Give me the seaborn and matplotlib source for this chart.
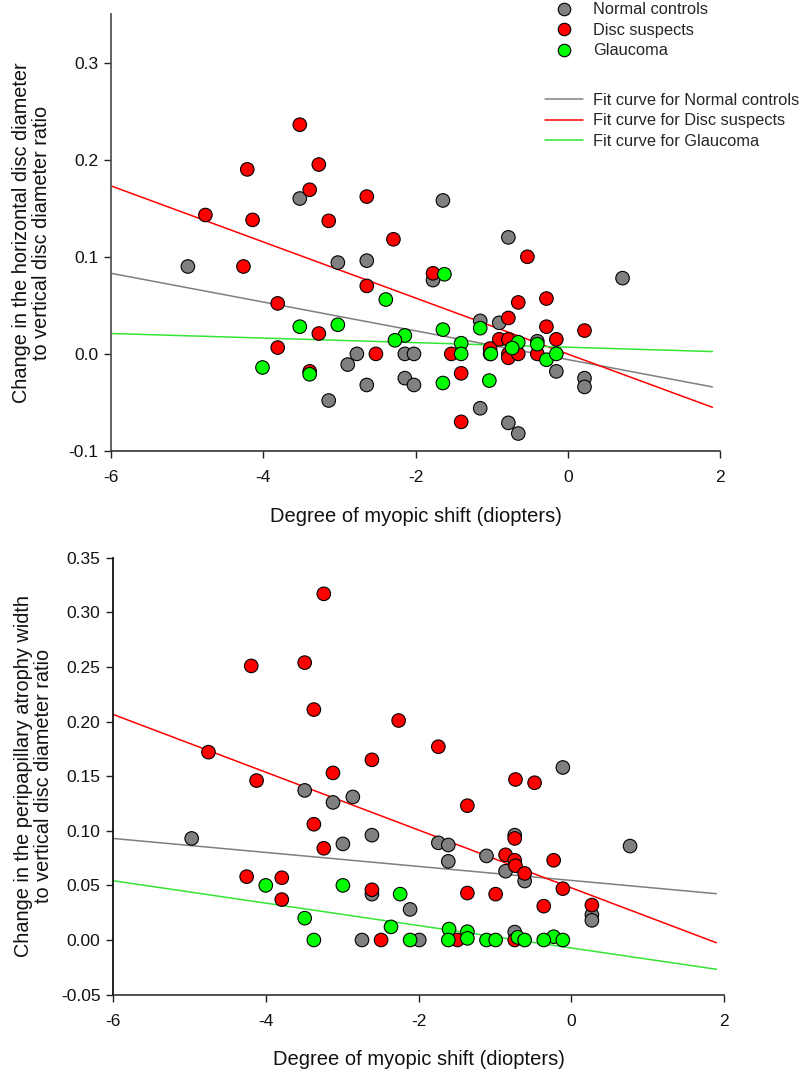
import numpy as np
import pandas as pd
import matplotlib
matplotlib.use("Agg")
import matplotlib.pyplot as plt
import seaborn as sns
from matplotlib.lines import Line2D

# ---------------- data ----------------
groups = ["Normal controls", "Disc suspects", "Glaucoma"]
point_colors = ["#808080", "#ff0000", "#00ff00"]
fit_colors = ["#7f7f7f", "#ff0000", "#33e633"]
fit_labels = ["Fit curve for Normal controls", "Fit curve for Disc suspects", "Fit curve for Glaucoma"]

x_ticks = [-6, -4, -2, 0, 2]
top_y_ticks = [-0.1, 0.0, 0.1, 0.2, 0.3]
bottom_y_ticks = [-0.05, 0.0, 0.05, 0.10, 0.15, 0.20, 0.25, 0.30, 0.35]

# Top panel: horizontal / vertical disc diameter ratio change
top_normal_x = [-3.52, -1.64, -4.99, -3.02, -2.64, -1.77, -2.77, -2.14, -2.02, -2.89, -2.64, -2.14,
                -2.02, -3.14, -0.78, 0.72, -1.15, -0.90, -1.02, -0.40, -0.15, 0.22, 0.22, -1.15,
                -0.78, -0.65]
top_normal_y = [0.160, 0.158, 0.090, 0.094, 0.096, 0.076, 0.0, 0.0, 0.0, -0.011, -0.032, -0.025,
                -0.032, -0.048, 0.120, 0.078, 0.034, 0.032, 0.0, 0.013, -0.018, -0.025, -0.034, -0.056,
                -0.071, -0.082]
top_suspect_x = [-3.52, -4.21, -3.27, -3.39, -2.64, -4.76, -4.14, -3.14, -2.29, -4.26, -1.77, -2.64,
                 -3.81, -3.27, -3.81, -2.52, -1.53, -3.39, -0.53, -0.65, -0.28, -0.78, -0.28, 0.22,
                 -0.90, -0.78, -0.15, -1.02, -0.78, -0.78, -0.65, -0.40, -1.40, -1.40]
top_suspect_y = [0.236, 0.190, 0.195, 0.169, 0.162, 0.143, 0.138, 0.137, 0.118, 0.090, 0.083, 0.070,
                 0.052, 0.021, 0.0065, 0.0, 0.0, -0.018, 0.100, 0.053, 0.057, 0.037, 0.028, 0.024,
                 0.015, 0.015, 0.015, 0.0055, 0.0, -0.004, 0.0, 0.0, -0.020, -0.070]
top_glaucoma_x = [-1.62, -2.39, -3.52, -3.02, -1.64, -2.14, -2.27, -4.01, -3.39, -1.64, -1.15, -1.40,
                  -0.65, -0.40, -0.73, -1.01, -1.40, -0.28, -0.15, -1.03]
top_glaucoma_y = [0.082, 0.056, 0.028, 0.030, 0.025, 0.019, 0.014, -0.014, -0.021, -0.030, 0.0265, 0.011,
                  0.012, 0.010, 0.006, 0.0, 0.0, -0.006, 0.0, -0.0275]

# Bottom panel: peripapillary atrophy width / vertical disc diameter ratio change
bot_normal_x = [-3.49, -2.86, -0.11, -3.12, -4.97, -2.61, -2.99, -1.74, -1.61, -1.61, -2.61, -2.11,
                -2.74, -1.99, -0.74, -1.11, -0.86, -0.61, 0.77, 0.27, 0.27, -0.74]
bot_normal_y = [0.137, 0.131, 0.158, 0.126, 0.093, 0.096, 0.088, 0.089, 0.087, 0.072, 0.042, 0.028,
                0.0, 0.0, 0.096, 0.077, 0.063, 0.054, 0.086, 0.023, 0.018, 0.0073]
bot_suspect_x = [-3.24, -4.19, -3.49, -3.37, -2.26, -1.74, -4.75, -2.61, -3.12, -4.12, -0.73, -0.48,
                 -3.37, -3.24, -4.25, -3.79, -2.61, -3.79, -2.49, -1.36, -0.74, -0.86, -0.74, -0.73,
                 -0.23, -0.61, -0.11, -1.36, -0.99, -0.36, 0.27, -1.49, -0.74]
bot_suspect_y = [0.317, 0.251, 0.254, 0.211, 0.201, 0.177, 0.172, 0.165, 0.153, 0.146, 0.147, 0.144,
                 0.106, 0.084, 0.058, 0.057, 0.046, 0.037, 0.0, 0.123, 0.093, 0.078, 0.073, 0.068,
                 0.073, 0.061, 0.047, 0.043, 0.042, 0.031, 0.032, 0.0, 0.0]
bot_glaucoma_x = [-4.00, -2.99, -2.24, -3.49, -2.36, -1.60, -3.37, -2.11, -1.61, -1.36, -1.36, -0.70,
                  -0.23, -1.11, -0.99, -0.61, -0.36, -0.11]
bot_glaucoma_y = [0.050, 0.050, 0.042, 0.020, 0.012, 0.010, 0.0, 0.0, 0.0, 0.0076, 0.0015, 0.0025,
                  0.003, 0.0, 0.0, 0.0, 0.0, 0.0]

# Fit curves (end points)
fit_x = [-6.0, 1.9]
top_fit_normal = [0.083, -0.034]
top_fit_suspect = [0.173, -0.055]
top_fit_glaucoma = [0.021, 0.0024]
bot_fit_normal = [0.093, 0.0424]
bot_fit_suspect = [0.2066, -0.0025]
bot_fit_glaucoma = [0.0543, -0.0268]

xlabel = "Degree of myopic shift (diopters)"
top_ylabel = "Change in the horizontal disc diameter\nto vertical disc diameter ratio"
bot_ylabel = "Change in the peripapillary atrophy width\nto vertical disc diameter ratio"


def points_df(xs, ys):
    frames = []
    for g, x, y in zip(groups, xs, ys):
        frames.append(pd.DataFrame({"shift": x, "change": y, "group": g}))
    return pd.concat(frames, ignore_index=True)


def fit_df(fits):
    frames = []
    for g, fy in zip(groups, fits):
        frames.append(pd.DataFrame({"shift": fit_x, "change": fy, "group": g}))
    return pd.concat(frames, ignore_index=True)


# ---------------- style ----------------
sns.set_style("ticks")
plt.rcParams["font.family"] = ["Liberation Sans", "DejaVu Sans"]
plt.rcParams["axes.unicode_minus"] = False

fig = plt.figure(figsize=(8, 10.73), dpi=100)
W, H = 800, 1073
ax_top = fig.add_axes([111 / W, 1 - 451 / H, (720 - 111) / W, (451 - 14) / H])
ax_bot = fig.add_axes([113 / W, 1 - 994.6 / H, (724 - 113) / W, (994.6 - 557.8) / H])

panels = [
    (ax_top, points_df([top_normal_x, top_suspect_x, top_glaucoma_x],
                       [top_normal_y, top_suspect_y, top_glaucoma_y]),
     fit_df([top_fit_normal, top_fit_suspect, top_fit_glaucoma]),
     (-0.1, 0.35), top_y_ticks, "%.1f", top_ylabel, "#555555", -0.128),
    (ax_bot, points_df([bot_normal_x, bot_suspect_x, bot_glaucoma_x],
                       [bot_normal_y, bot_suspect_y, bot_glaucoma_y]),
     fit_df([bot_fit_normal, bot_fit_suspect, bot_fit_glaucoma]),
     (-0.05, 0.35), bottom_y_ticks, "%.2f", bot_ylabel, "#111111", -0.127),
]

for ax, pdf, fdf, ylim, yticks, fmt, ylab, spcol, xl_y in panels:
    sns.lineplot(data=fdf, x="shift", y="change", hue="group", hue_order=groups,
                 palette=fit_colors, linewidth=1.1, legend=False, ax=ax, zorder=1,
                 estimator=None, sort=False)
    sns.scatterplot(data=pdf, x="shift", y="change", hue="group", hue_order=groups,
                    palette=point_colors, s=95, edgecolor="black", linewidth=0.8,
                    legend=False, ax=ax, zorder=3)
    ax.set_xlim(-6, 2)
    ax.set_ylim(*ylim)
    ax.set_xticks(x_ticks)
    ax.set_xticklabels([str(t) for t in x_ticks])
    ax.set_yticks(yticks)
    ax.set_yticklabels([fmt % t for t in yticks])
    ax.tick_params(axis="both", direction="out", length=5, width=1.0, labelsize=12.5,
                   color="#222222", labelcolor="#111111", pad=4)
    ax.tick_params(axis="x", pad=9)
    for side in ["top", "right"]:
        ax.spines[side].set_visible(False)
    ax.spines["left"].set_color(spcol)
    ax.spines["bottom"].set_color("#222222")
    ax.spines["left"].set_linewidth(1.3)
    ax.spines["bottom"].set_linewidth(1.1)
    ax.set_xlabel(xlabel, fontsize=14.5, color="#111111")
    ax.set_ylabel(ylab, fontsize=14.3, color="#111111", linespacing=1.1)
    ax.xaxis.set_label_coords(0.5, xl_y)
    ax.yaxis.set_label_coords(-0.098, 0.5)

# ---------------- legends ----------------
marker_handles = [Line2D([0], [0], marker="o", linestyle="none", markerfacecolor=c,
                         markeredgecolor="black", markeredgewidth=0.8, markersize=9, label=g)
                  for g, c in zip(groups, point_colors)]
line_handles = [Line2D([0], [0], color=c, linewidth=1.1, label=l)
                for l, c in zip(fit_labels, fit_colors)]

fs = 11.8
fig.legend(handles=marker_handles, loc="upper left", bbox_to_anchor=(555.8 / W, 1 - 2.5 / H),
           frameon=False, borderpad=0, borderaxespad=0, handlelength=1.0,
           handletextpad=1.27, labelspacing=0.33, fontsize=fs)
fig.legend(handles=line_handles, loc="upper left", bbox_to_anchor=(545 / W, 1 - 93 / H),
           frameon=False, borderpad=0, borderaxespad=0, handlelength=2.32,
           handletextpad=0.6, labelspacing=0.33, fontsize=fs)

fig.savefig("out.png", dpi=100)
